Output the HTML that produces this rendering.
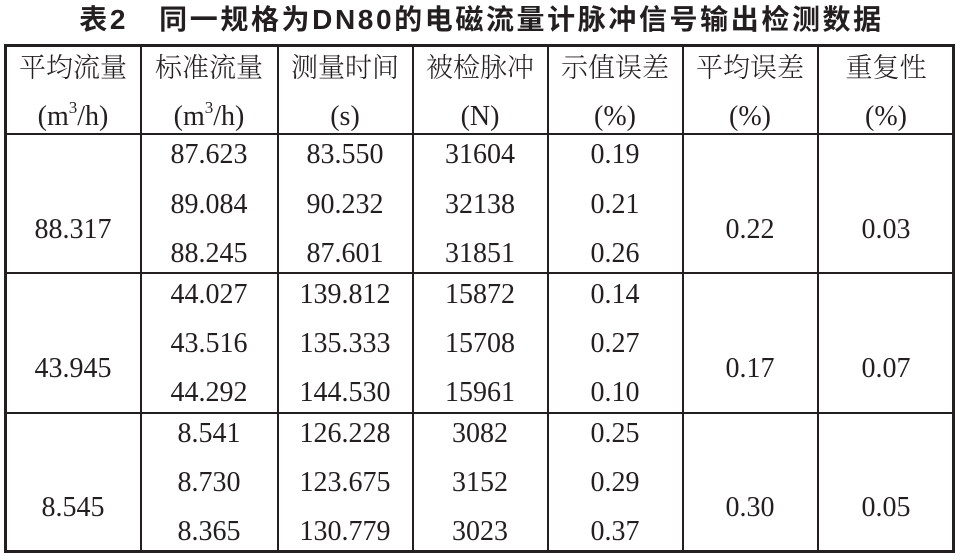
<!DOCTYPE html>
<html><head><meta charset="utf-8"><style>
body{margin:0;width:963px;height:560px;background:#fff;position:relative;overflow:hidden;color:#231f20}
.h,.v{position:absolute;background:#231f20}
.t{position:absolute;width:200px;margin-left:-100px;text-align:center;font:28px/28px "Liberation Serif","Noto Serif CJK SC",serif;white-space:nowrap}
.c{font-family:"Noto Serif CJK SC","Liberation Serif",serif;font-size:27px;font-weight:300}
#title{position:absolute;left:0;width:963px;top:3px;text-align:center;font:bold 28px/34px "Liberation Sans","Noto Sans CJK SC",sans-serif;letter-spacing:2.6px}
sup{font-size:17px;line-height:0;vertical-align:12px}
</style></head><body>
<div id="title">表2&nbsp;&nbsp;&nbsp;同一规格为DN80的电磁流量计脉冲信号输出检测数据</div>
<div class="h" style="left:4px;top:44px;width:951px;height:3px"></div>
<div class="h" style="left:4px;top:133px;width:951px;height:2px"></div>
<div class="h" style="left:4px;top:272px;width:951px;height:2px"></div>
<div class="h" style="left:4px;top:412px;width:951px;height:2px"></div>
<div class="h" style="left:4px;top:550px;width:951px;height:3px"></div>
<div class="v" style="left:4px;top:44px;width:3px;height:509px"></div>
<div class="v" style="left:140px;top:44px;width:2px;height:509px"></div>
<div class="v" style="left:277px;top:44px;width:2px;height:509px"></div>
<div class="v" style="left:412px;top:44px;width:2px;height:509px"></div>
<div class="v" style="left:547px;top:44px;width:2px;height:509px"></div>
<div class="v" style="left:682px;top:44px;width:2px;height:509px"></div>
<div class="v" style="left:817px;top:44px;width:2px;height:509px"></div>
<div class="v" style="left:952px;top:44px;width:3px;height:509px"></div>

<div class="t c" style="left:73px;top:52px">平均流量</div>
<div class="t c" style="left:209px;top:52px">标准流量</div>
<div class="t c" style="left:345px;top:52px">测量时间</div>
<div class="t c" style="left:480px;top:52px">被检脉冲</div>
<div class="t c" style="left:615px;top:52px">示值误差</div>
<div class="t c" style="left:750px;top:52px">平均误差</div>
<div class="t c" style="left:886px;top:52px">重复性</div>
<div class="t" style="left:73px;top:103px">(m<sup>3</sup>/h)</div>
<div class="t" style="left:209px;top:103px">(m<sup>3</sup>/h)</div>
<div class="t" style="left:345px;top:103px">(s)</div>
<div class="t" style="left:480px;top:103px">(N)</div>
<div class="t" style="left:615px;top:103px">(%)</div>
<div class="t" style="left:750px;top:103px">(%)</div>
<div class="t" style="left:886px;top:103px">(%)</div>

<div class="t" style="left:73px;top:216px">88.317</div>
<div class="t" style="left:750px;top:216px">0.22</div>
<div class="t" style="left:886px;top:216px">0.03</div>
<div class="t" style="left:209px;top:141px">87.623</div><div class="t" style="left:345px;top:141px">83.550</div><div class="t" style="left:480px;top:141px">31604</div><div class="t" style="left:615px;top:141px">0.19</div>
<div class="t" style="left:209px;top:191px">89.084</div><div class="t" style="left:345px;top:191px">90.232</div><div class="t" style="left:480px;top:191px">32138</div><div class="t" style="left:615px;top:191px">0.21</div>
<div class="t" style="left:209px;top:240px">88.245</div><div class="t" style="left:345px;top:240px">87.601</div><div class="t" style="left:480px;top:240px">31851</div><div class="t" style="left:615px;top:240px">0.26</div>

<div class="t" style="left:73px;top:355px">43.945</div>
<div class="t" style="left:750px;top:355px">0.17</div>
<div class="t" style="left:886px;top:355px">0.07</div>
<div class="t" style="left:209px;top:281px">44.027</div><div class="t" style="left:345px;top:281px">139.812</div><div class="t" style="left:480px;top:281px">15872</div><div class="t" style="left:615px;top:281px">0.14</div>
<div class="t" style="left:209px;top:330px">43.516</div><div class="t" style="left:345px;top:330px">135.333</div><div class="t" style="left:480px;top:330px">15708</div><div class="t" style="left:615px;top:330px">0.27</div>
<div class="t" style="left:209px;top:379px">44.292</div><div class="t" style="left:345px;top:379px">144.530</div><div class="t" style="left:480px;top:379px">15961</div><div class="t" style="left:615px;top:379px">0.10</div>

<div class="t" style="left:73px;top:494px">8.545</div>
<div class="t" style="left:750px;top:494px">0.30</div>
<div class="t" style="left:886px;top:494px">0.05</div>
<div class="t" style="left:209px;top:420px">8.541</div><div class="t" style="left:345px;top:420px">126.228</div><div class="t" style="left:480px;top:420px">3082</div><div class="t" style="left:615px;top:420px">0.25</div>
<div class="t" style="left:209px;top:469px">8.730</div><div class="t" style="left:345px;top:469px">123.675</div><div class="t" style="left:480px;top:469px">3152</div><div class="t" style="left:615px;top:469px">0.29</div>
<div class="t" style="left:209px;top:518px">8.365</div><div class="t" style="left:345px;top:518px">130.779</div><div class="t" style="left:480px;top:518px">3023</div><div class="t" style="left:615px;top:518px">0.37</div>
</body></html>
